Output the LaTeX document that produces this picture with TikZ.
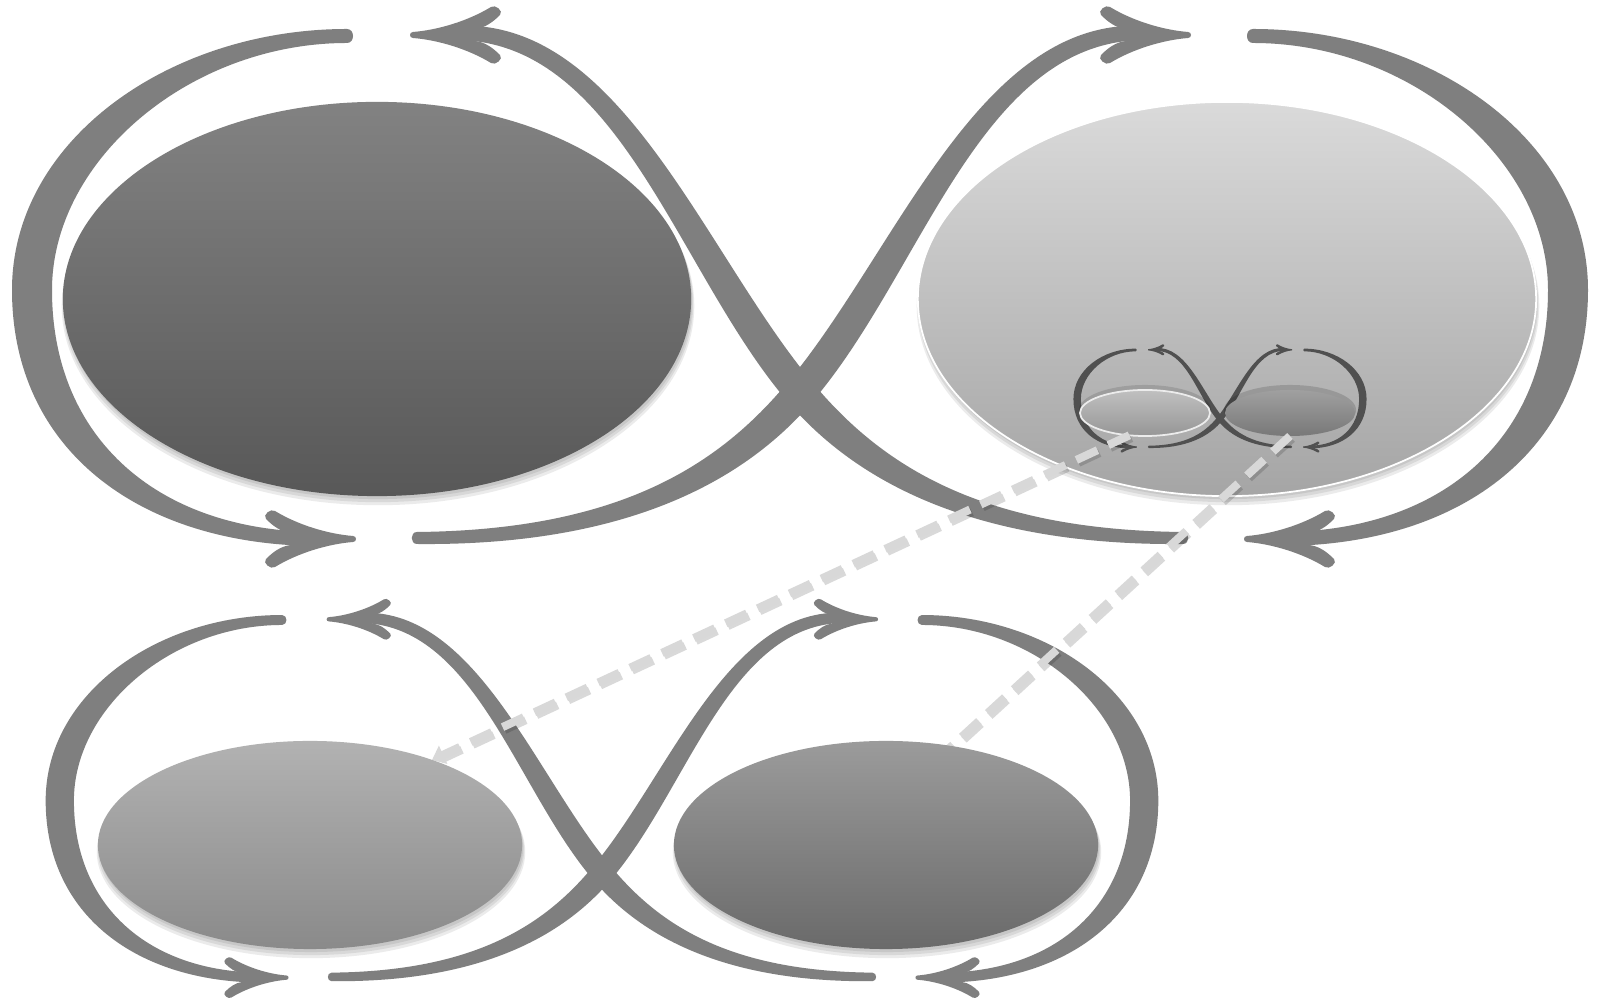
\documentclass[tikz,border=0pt]{standalone}
\usetikzlibrary{shapes.geometric,arrows.meta}
\definecolor{strokegray}{RGB}{127,127,127}
\definecolor{infdark}{RGB}{80,80,80}
\definecolor{tlTop}{RGB}{130,130,130}
\definecolor{tlBot}{RGB}{88,88,88}
\definecolor{trTop}{RGB}{218,218,218}
\definecolor{trBot}{RGB}{165,165,165}
\definecolor{blTop}{RGB}{178,178,178}
\definecolor{blBot}{RGB}{138,138,138}
\definecolor{brTop}{RGB}{155,155,155}
\definecolor{brBot}{RGB}{106,106,106}
\definecolor{slTop}{RGB}{192,192,192}
\definecolor{slBot}{RGB}{150,150,150}
\definecolor{srTop}{RGB}{160,160,160}
\definecolor{srBot}{RGB}{120,120,120}
\definecolor{dashgray}{RGB}{216,216,216}
\tikzset{
  ell/.style={ellipse, inner sep=0pt, outer sep=0pt},
  shadowfill/.style={fill=black, opacity=0.08},
  dashln/.style={draw=dashgray, line width=2.3pt, dash pattern=on 6.6pt off 3.4pt},
  dashsh/.style={draw=black, opacity=0.15, line width=2.3pt, dash pattern=on 6.6pt off 3.4pt,
     transform canvas={xshift=0.6pt, yshift=-0.8pt}},
}
\newcommand\arrowhd[3]{%
  \begin{scope}[shift={(#1,#2)}, xscale=#3]
    \fill (0,-3) .. controls (-25,-5) and (-55,-14) .. (-78,-28)
      .. controls (-82,-31) and (-91,-24) .. (-87,-20)
      .. controls (-80,-13) and (-72,-7) .. (-62,-6)
      -- (-62,6)
      .. controls (-72,7) and (-80,13) .. (-87,20)
      .. controls (-91,24) and (-82,31) .. (-78,28)
      .. controls (-55,14) and (-25,5) .. (0,3)
      .. controls (4,3) and (4,-3) .. (0,-3) -- cycle;
  \end{scope}%
}
\newcommand\infinityshape{%
  % left loop
  \fill (347,29) .. controls (170,29) and (12,140) .. (12,290) .. controls (12,450) and (140,546) .. (320,546) -- (320,532) .. controls (160,532) and (52,440) .. (52,290) .. controls (52,160) and (190,43) .. (347,43) .. controls (355,43) and (355,29) .. (347,29) -- cycle;
  % right loop
  \fill (1253,29) .. controls (1430,29) and (1588,140) .. (1588,290) .. controls (1588,450) and (1460,546) .. (1280,546) -- (1280,532) .. controls (1440,532) and (1548,440) .. (1548,290) .. controls (1548,160) and (1410,43) .. (1253,43) .. controls (1245,43) and (1245,29) .. (1253,29) -- cycle;
  % crossing stroke, top left to bottom right
  \fill (455,26) .. controls (620,16) and (703,251) .. (812,382) .. controls (881,465) and (980,530) .. (1183,532) .. controls (1190,532) and (1190,544) .. (1183,544) .. controls (980,546) and (859,485) .. (788,402) .. controls (677,273) and (620,40) .. (455,40) -- cycle;
  % crossing stroke, bottom left to top right
  \fill (1145,26) .. controls (980,16) and (897,251) .. (788,382) .. controls (719,465) and (620,530) .. (417,532) .. controls (410,532) and (410,544) .. (417,544) .. controls (620,546) and (741,485) .. (812,402) .. controls (923,273) and (980,40) .. (1145,40) -- cycle;
  \arrowhd{413}{35}{-1}
  \arrowhd{1188}{35}{1}
  \arrowhd{353}{539}{1}
  \arrowhd{1247}{539}{-1}
}
\newcommand\softshadow[4]{%
  \fill[shadowfill] (#1+1,#2+3) ellipse [x radius=#3cm, y radius=#4cm];
  \fill[shadowfill] (#1+1,#2+5) ellipse [x radius=#3cm+0.3pt, y radius=#4cm+0.3pt];
  \fill[shadowfill] (#1+1,#2+7) ellipse [x radius=#3cm+0.6pt, y radius=#4cm+0.6pt];
}
\begin{document}
\begin{tikzpicture}[x=0.01cm,y=-0.01cm]
\useasboundingbox (0,0) rectangle (1599,1001);
\fill[white] (0,0) rectangle (1599,1001);
% top ellipses
\softshadow{377}{299}{3.14}{1.97}
\node[ell, minimum width=6.28cm, minimum height=3.94cm, top color=tlTop, bottom color=tlBot] (tl) at (377,299) {};
\softshadow{1227}{299}{3.09}{1.97}
\node[ell, minimum width=6.18cm, minimum height=3.94cm, top color=trTop, bottom color=trBot, draw=white, line width=0.5pt] (tr) at (1227,299) {};
% big infinity
\begin{scope}[color=strokegray]
  \infinityshape
\end{scope}
% small infinity
\begin{scope}[shift={(1071.2,343.05)}, xscale=0.186, yscale=0.193, color=infdark]
  \infinityshape
\end{scope}
\fill[black, opacity=0.12] (1145,410) ellipse [x radius=0.66cm, y radius=0.25cm];
\node[ell, minimum width=1.30cm, minimum height=0.46cm, top color=slTop, bottom color=slBot, draw=white!85!gray, line width=0.5pt] (sl) at (1145,413) {};
\fill[black, opacity=0.15] (1290,410) ellipse [x radius=0.66cm, y radius=0.25cm];
\node[ell, minimum width=1.30cm, minimum height=0.46cm, top color=srTop, bottom color=srBot] (sr) at (1290,413) {};
% bottom infinity
\begin{scope}[shift={(37.2,594.4)}, xscale=0.706, yscale=0.711, color=strokegray]
  \infinityshape
\end{scope}
\coordinate (blc) at (310,845);
\coordinate (brc) at (886,845);
\coordinate (d1end) at (432,760);
\coordinate (d2end) at (919,776);
% dashed connectors
\draw[dashsh] (sl.235) -- (d1end);
\draw[dashsh] (sr.south) -- (d2end);
\draw[dashln, -{Triangle[length=3.5pt,width=5.5pt]}] (sl.235) -- (d1end);
\draw[dashln] (sr.south) -- (d2end);
% bottom ellipses
\softshadow{310}{845}{2.12}{1.04}
\node[ell, minimum width=4.24cm, minimum height=2.08cm, top color=blTop, bottom color=blBot] (bl) at (blc) {};
\softshadow{886}{845}{2.12}{1.04}
\node[ell, minimum width=4.24cm, minimum height=2.08cm, top color=brTop, bottom color=brBot] (br) at (brc) {};
\end{tikzpicture}
\end{document}
